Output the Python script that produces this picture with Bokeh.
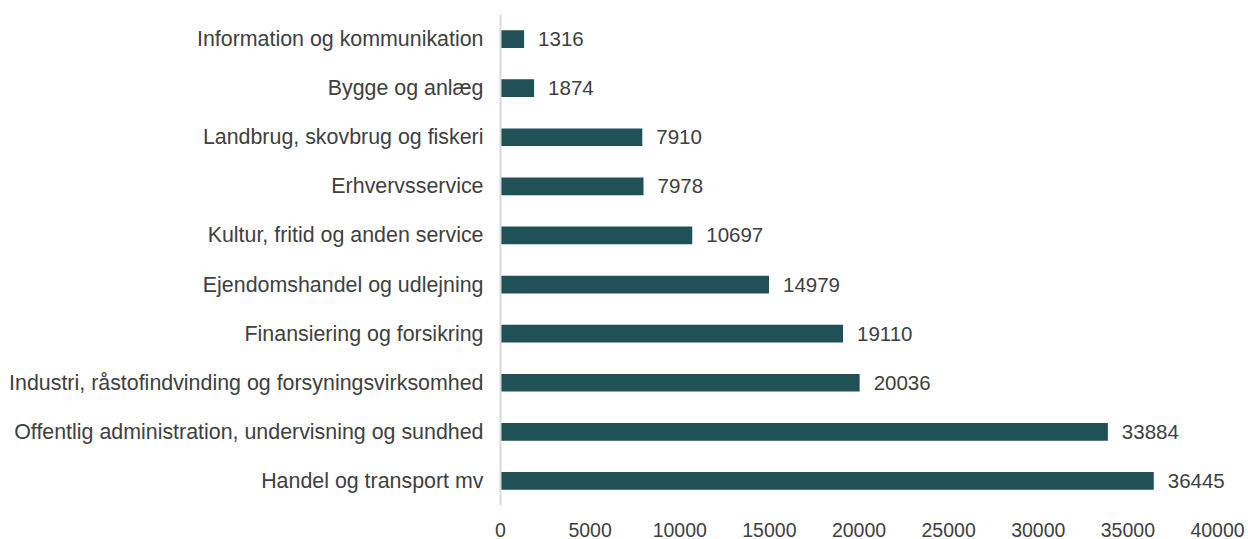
from bokeh.plotting import figure
from bokeh.models import Range1d, FactorRange, ColumnDataSource, FixedTicker, LabelSet
from bokeh.core.properties import value
from bokeh.embed import file_html
from bokeh.resources import INLINE

categories = [
    "Handel og transport mv",
    "Offentlig administration, undervisning og sundhed",
    "Industri, råstofindvinding og forsyningsvirksomhed",
    "Finansiering og forsikring",
    "Ejendomshandel og udlejning",
    "Kultur, fritid og anden service",
    "Erhvervsservice",
    "Landbrug, skovbrug og fiskeri",
    "Bygge og anlæg",
    "Information og kommunikation",
]
values = [36445, 33884, 20036, 19110, 14979, 10697, 7978, 7910, 1874, 1316]
x_ticks = [0, 5000, 10000, 15000, 20000, 25000, 30000, 35000, 40000]

FONT = "Liberation Sans"
TXT = "#404040"

src = ColumnDataSource(dict(cat=categories, val=values, lab=[str(v) for v in values]))

p = figure(width=1248, height=539, y_range=FactorRange(*categories),
           x_range=Range1d(0, 41730), output_backend="svg", toolbar_location=None,
           min_border_left=500, min_border_right=0, min_border_top=14, min_border_bottom=30)
p.outline_line_color = None
p.grid.grid_line_color = None
p.y_range.range_padding = 0

p.hbar(y="cat", right="val", left=0, height=0.36, source=src,
       fill_color="#1F5156", line_color=None)

labels = LabelSet(x="val", y="cat", text="lab", source=src, x_offset=14,
                  text_baseline="middle", text_font=value(FONT), text_font_size="20.5px",
                  text_color=TXT)
p.add_layout(labels)

p.xaxis.ticker = FixedTicker(ticks=x_ticks)
p.xaxis.axis_line_color = None
p.xaxis.major_tick_line_color = None
p.xaxis.minor_tick_line_color = None
p.xaxis.major_label_text_font = FONT
p.xaxis.major_label_text_font_size = "19.5px"
p.xaxis.major_label_text_color = TXT
p.xaxis.major_label_standoff = 11

p.yaxis.axis_line_color = "#D9D9D9"
p.yaxis.axis_line_width = 2
p.yaxis.major_tick_line_color = None
p.yaxis.minor_tick_line_color = None
p.yaxis.major_label_text_font = FONT
p.yaxis.major_label_text_font_size = "21.4px"
p.yaxis.major_label_text_color = TXT
p.yaxis.major_label_standoff = 11

open("out.html", "w").write(file_html(p, INLINE))
